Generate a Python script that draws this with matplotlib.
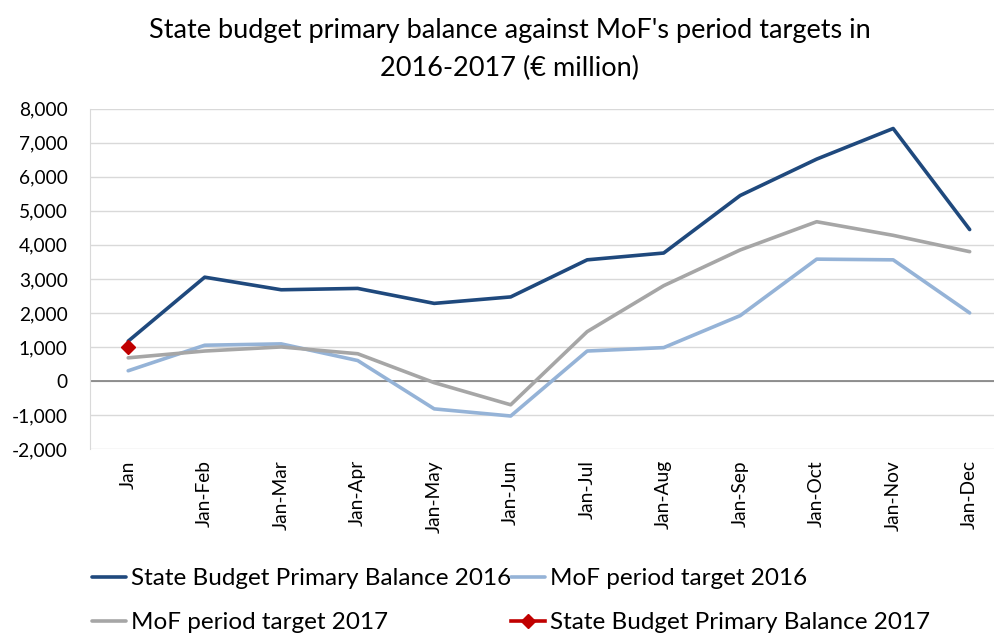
import matplotlib.pyplot as plt
import numpy as np

plt.rcParams['font.family'] = ['Lato', 'DejaVu Sans']

months = ['Jan', 'Jan-Feb', 'Jan-Mar', 'Jan-Apr', 'Jan-May', 'Jan-Jun',
          'Jan-Jul', 'Jan-Aug', 'Jan-Sep', 'Jan-Oct', 'Jan-Nov', 'Jan-Dec']
sb_2016 = [1170, 3050, 2680, 2720, 2280, 2470, 3560, 3760, 5450, 6520, 7420, 4450]
mof_2016 = [300, 1050, 1090, 600, -820, -1030, 880, 980, 1920, 3580, 3560, 2000]
mof_2017 = [680, 880, 1000, 800, -50, -700, 1450, 2800, 3850, 4680, 4280, 3800]
sb_2017 = [1000]

fig = plt.figure(figsize=(9.94, 6.36), dpi=100)
ax = fig.add_axes([0.0905, 0.294, 0.9235, 0.535])

x = np.arange(len(months))
l1, = ax.plot(x, sb_2016, color='#1F497D', lw=2.6, solid_capstyle='round',
              label='State Budget Primary Balance 2016')
l2, = ax.plot(x, mof_2016, color='#95B3D7', lw=2.6, solid_capstyle='round',
              label='MoF period target 2016')
l3, = ax.plot(x, mof_2017, color='#A6A6A6', lw=2.6, solid_capstyle='round',
              label='MoF period target 2017')
l4, = ax.plot(x[:len(sb_2017)], sb_2017, color='#C00000', lw=2.6, marker='D',
              markersize=7, label='State Budget Primary Balance 2017')

ax.set_xlim(-0.5, 11.5)
ax.set_ylim(-2000, 8000)
ax.set_yticks(range(-2000, 8001, 1000))
ax.set_yticklabels([f'{v:,}' for v in range(-2000, 8001, 1000)], fontsize=13.8)
ax.set_xticks(x)
ax.set_xticklabels(months, rotation=90, fontsize=13.8)
ax.tick_params(axis='y', length=0, pad=16)
ax.tick_params(axis='x', length=0, pad=8)
ax.grid(axis='y', color='#D9D9D9', lw=1)
ax.set_axisbelow(True)
ax.axhline(0, color='#808080', lw=1.2, zorder=1)
for s in ['top', 'right', 'bottom']:
    ax.spines[s].set_visible(False)
ax.spines['left'].set_color('#D9D9D9')

fig.text(0.513, 0.952, "State budget primary balance against MoF's period targets in",
         ha='center', va='center', fontsize=19.5)
fig.text(0.513, 0.892, '2016-2017 (€ million)', ha='center', va='center', fontsize=19.5)

fig.legend([l1, l3, l2, l4], [l1.get_label(), l3.get_label(), l2.get_label(), l4.get_label()],
           ncol=2, loc='lower left', bbox_to_anchor=(0.071, -0.03), frameon=False,
           fontsize=17.5, handlelength=1.4, handletextpad=0.2, columnspacing=0.0,
           labelspacing=0.95)

fig.savefig('out.png', dpi=100)
